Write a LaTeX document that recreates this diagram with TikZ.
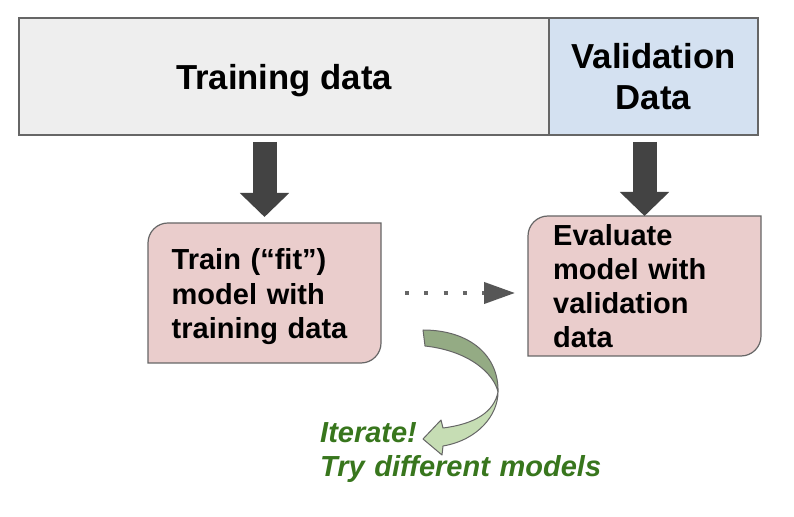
\documentclass[tikz,border=0pt]{standalone}
\usepackage{fontspec}
\setmainfont{Liberation Sans}
\usetikzlibrary{positioning,arrows.meta}

\definecolor{gristop}{HTML}{EEEEEE}
\definecolor{azulval}{HTML}{D4E1F1}
\definecolor{rosa}{HTML}{EACDCC}
\definecolor{borde}{HTML}{666666}
\definecolor{flecha}{HTML}{434343}
\definecolor{verde}{HTML}{38761D}
\definecolor{verdeosc}{HTML}{94AB84}
\definecolor{verdecl}{HTML}{C6DDB4}

\begin{document}
\begin{tikzpicture}[x=1pt, y=1pt,
  caja/.style={draw=borde, line width=1.2pt, minimum height=117pt, inner sep=0pt, outer sep=0pt, align=center, font=\bfseries\fontsize{34.7}{41}\selectfont},
  tarjeta/.style={minimum width=233pt, minimum height=140pt, inner sep=0pt, outer sep=0pt},
  marco/.style={draw=borde, fill=rosa, line width=1.2pt},
  texto/.style={text width=210pt, align=left, inner sep=0pt, anchor=base west},
  bloque/.style={draw=flecha, line width=24pt, -{Triangle[width=48pt,length=24pt]}, shorten <=7pt},
  puntos/.style={draw=borde, line width=4pt, dash pattern=on 4pt off 15.3pt, shorten <=24pt, shorten >=13pt, -{Triangle[length=31pt,width=21pt,fill=flecha!90,color=flecha!90]}},
  curva/.style={draw=borde, line width=1pt, line join=round}]

\useasboundingbox (0,0) rectangle (794,516);

% Datos: entrenamiento y validacion
\node[caja, fill=gristop, minimum width=530pt, text depth=0pt] (train) at (284,439.5) {Training data};
\node[caja, fill=azulval, minimum width=209pt, right=0pt of train] (valid) {Validation\\Data};

% Tarjetas con esquinas redondeadas en diagonal
\node[tarjeta] (fit) at (264.5,223) {};
\node[tarjeta] (eval) at (644.5,230) {};
\foreach \n in {fit,eval}
  \draw[marco] (\n.north east) -- ([xshift=20pt]\n.north west)
    arc[start angle=90, end angle=180, radius=20pt] -- (\n.south west)
    -- ([xshift=-20pt]\n.south east) arc[start angle=270, end angle=360, radius=20pt] -- cycle;

\node[texto, font=\bfseries\fontsize{29}{34.5}\selectfont] (fittxt) at ([shift={(23.5,-47)}]fit.north west) {Train (“fit”)\\model with\\training data};
\node[texto, font=\bfseries\fontsize{29}{33.8}\selectfont] (evaltxt) at ([shift={(25,-29.7)}]eval.north west) {Evaluate\\model with\\validation\\data};

% Flechas de bloque
\draw[bloque, shorten >=6pt] (train.south -| fit.north) -- (fit.north);
\draw[bloque] (valid.south -| eval.north) -- (eval.north);

% Flecha punteada
\draw[puntos] (fit.east) -- (fit.east -| eval.west);

% Flecha curva (iterar)
\draw[curva, fill=verdeosc] (423,186) .. controls (470,186) and (499,160) .. (498,124)
  .. controls (494,142) and (470,165) .. (425,170) -- cycle;
\draw[curva, fill=verdecl] (498,124) .. controls (498,101) and (478,76) .. (443,70)
  -- (442,61) -- (423,77) -- (441,96) -- (443,88)
  .. controls (475,92) and (494,104) .. (498,124) -- cycle;

\node[texto, text width=300pt, text=verde, font=\bfseries\itshape\fontsize{29}{33.5}\selectfont] (iter) at (320,73) {Iterate!\\Try different models};

\end{tikzpicture}
\end{document}
